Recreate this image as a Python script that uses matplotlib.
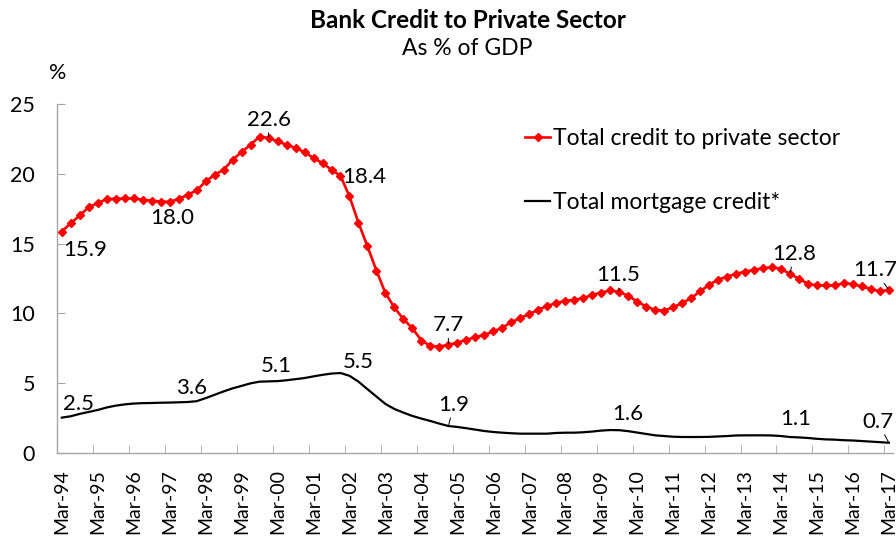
import matplotlib
matplotlib.use('Agg')
import matplotlib.pyplot as plt
from matplotlib.ticker import FixedLocator, NullFormatter

plt.rcParams['font.family'] = ['Lato', 'DejaVu Sans']

# quarterly, Mar-94 .. Mar-17
total_credit = [15.87, 16.47, 17.02, 17.62, 17.91, 18.20, 18.22, 18.24, 18.24, 18.15,
                18.08, 18.02, 18.00, 18.20, 18.50, 18.82, 19.46, 19.94, 20.30, 21.02,
                21.57, 22.10, 22.68, 22.58, 22.33, 22.10, 21.86, 21.57, 21.14, 20.78,
                20.30, 19.87, 18.39, 16.50, 14.80, 13.07, 11.45, 10.42, 9.58, 8.94,
                8.05, 7.67, 7.62, 7.74, 7.90, 8.10, 8.29, 8.46, 8.70, 8.97,
                9.37, 9.66, 9.96, 10.25, 10.54, 10.73, 10.90, 10.97, 11.09, 11.33,
                11.49, 11.64, 11.54, 11.26, 10.85, 10.49, 10.25, 10.20, 10.44, 10.73,
                11.09, 11.57, 12.05, 12.40, 12.64, 12.83, 13.00, 13.12, 13.24, 13.31,
                13.19, 12.84, 12.48, 12.12, 12.00, 12.00, 12.00, 12.17, 12.10, 11.93,
                11.76, 11.57, 11.68]

mortgage = [2.52, 2.62, 2.79, 2.93, 3.07, 3.25, 3.38, 3.47, 3.53, 3.56,
            3.57, 3.59, 3.60, 3.62, 3.64, 3.70, 3.92, 4.16, 4.40, 4.62,
            4.80, 4.98, 5.10, 5.12, 5.14, 5.20, 5.28, 5.36, 5.48, 5.59,
            5.68, 5.72, 5.52, 5.10, 4.56, 4.03, 3.50, 3.14, 2.88, 2.64,
            2.45, 2.28, 2.09, 1.92, 1.85, 1.76, 1.66, 1.56, 1.49, 1.44,
            1.40, 1.37, 1.37, 1.37, 1.37, 1.42, 1.44, 1.44, 1.47, 1.52,
            1.59, 1.63, 1.62, 1.55, 1.45, 1.35, 1.25, 1.20, 1.15, 1.13,
            1.13, 1.13, 1.14, 1.17, 1.20, 1.24, 1.25, 1.25, 1.25, 1.24,
            1.20, 1.13, 1.10, 1.06, 1.00, 0.96, 0.94, 0.90, 0.88, 0.84,
            0.80, 0.76, 0.72]

year_labels = ['Mar-94', 'Mar-95', 'Mar-96', 'Mar-97', 'Mar-98', 'Mar-99', 'Mar-00',
               'Mar-01', 'Mar-02', 'Mar-03', 'Mar-04', 'Mar-05', 'Mar-06', 'Mar-07',
               'Mar-08', 'Mar-09', 'Mar-10', 'Mar-11', 'Mar-12', 'Mar-13', 'Mar-14',
               'Mar-15', 'Mar-16', 'Mar-17']

# points that carry a value label (index into the series)
red_lab_idx = [0, 12, 23, 32, 43, 62, 81, 92]
blk_lab_idx = [0, 14, 24, 32, 43, 62, 81, 92]

x = list(range(len(total_credit)))

fig = plt.figure(figsize=(8.96, 5.39), dpi=100)
ax = fig.add_axes([0.064, 0.16, 0.933, 0.6466])

ax.plot(x, total_credit, color='#ff0000', lw=1.9, marker='D', ms=3.6,
        label='Total credit to private sector', zorder=3)
ax.plot(x, mortgage, color='black', lw=1.6, label='Total mortgage credit*', zorder=3)

ax.set_xlim(-0.5, len(x) - 0.5)
ax.set_ylim(0, 25)
ax.set_yticks([0, 5, 10, 15, 20, 25])

# category axis: labels under every 4th quarter, tick marks between categories
ax.xaxis.set_major_locator(FixedLocator(list(range(0, len(x), 4))))
ax.set_xticklabels(year_labels, rotation=90)
ax.xaxis.set_minor_locator(FixedLocator([k - 0.5 for k in range(0, len(x), 4)]))
ax.xaxis.set_minor_formatter(NullFormatter())
ax.tick_params(axis='x', which='major', length=0, pad=12, labelsize=14)
ax.tick_params(axis='x', which='minor', direction='in', length=6, color='#a6a6a6')
ax.tick_params(axis='y', direction='in', length=6, color='#a6a6a6', pad=16, labelsize=15.5)

for s in ['top', 'right']:
    ax.spines[s].set_visible(False)
for s in ['left', 'bottom']:
    ax.spines[s].set_color('#a6a6a6')
    ax.spines[s].set_linewidth(1.0)

lead = dict(arrowstyle='-', lw=0.7, color='black', shrinkA=0, shrinkB=1)

# value labels: (dx, dy) in points, ha, leader line?
red_off = {0: (1, -13, 'left', False), 12: (2, -12, 'center', False),
           23: (0, 13, 'center', True), 32: (-5, 14, 'left', False),
           43: (0, 14, 'center', True), 62: (-1, 12, 'center', True),
           81: (3, 14, 'center', True), 92: (-10, 14, 'center', True)}
for i in red_lab_idx:
    dx, dy, ha, ln = red_off[i]
    ax.annotate('%.1f' % total_credit[i], (x[i], total_credit[i]), xytext=(dx, dy),
                textcoords='offset points', ha=ha, va='center', fontsize=16,
                arrowprops=lead if ln else None)
blk_off = {0: (12, 10, 'center', False), 14: (3, 10, 'center', False),
           24: (-1, 11, 'center', False), 32: (6, 10, 'center', False),
           43: (4, 15, 'center', True), 62: (6, 12, 'center', False),
           81: (4, 13, 'center', False), 92: (-8, 15, 'center', True)}
for i in blk_lab_idx:
    dx, dy, ha, ln = blk_off[i]
    ax.annotate('%.1f' % mortgage[i], (x[i], mortgage[i]), xytext=(dx, dy),
                textcoords='offset points', ha=ha, va='center', fontsize=16,
                arrowprops=lead if ln else None)

ax.legend(loc='upper left', bbox_to_anchor=(0.535, 0.99), frameon=False, fontsize=16.5,
          handlelength=1.1, handletextpad=0.1, labelspacing=1.85)

fig.text(0.522, 0.962, 'Bank Credit to Private Sector', ha='center', va='center',
         fontsize=17.5, fontweight='bold')
fig.text(0.522, 0.91, 'As % of GDP', ha='center', va='center', fontsize=16.5)
fig.text(0.064, 0.865, '%', ha='center', va='center', fontsize=15.5)

fig.savefig('out.png', dpi=100)
